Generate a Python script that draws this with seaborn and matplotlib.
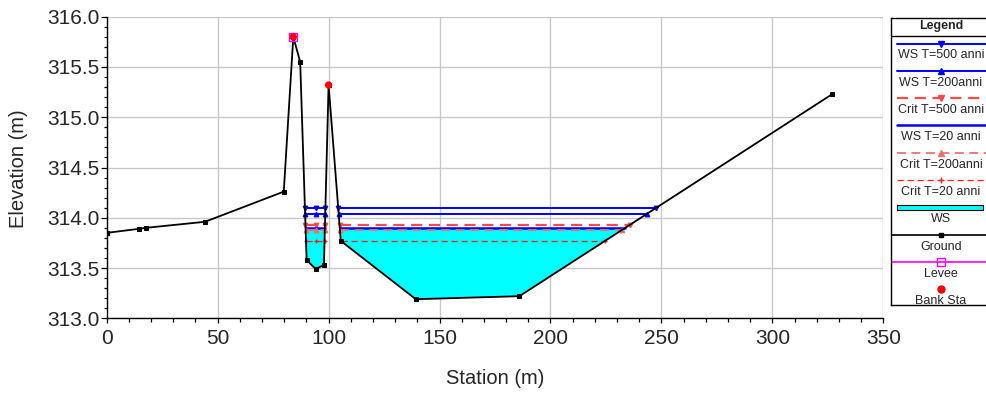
import numpy as np
import pandas as pd
import matplotlib
matplotlib.use("Agg")
import matplotlib.pyplot as plt
import seaborn as sns
from matplotlib.ticker import MultipleLocator
from matplotlib.patches import Rectangle

# ground profile of the cross section
ground_x = [0, 14.6, 17.7, 44.3, 79.8, 84.1, 87.2, 90.1, 94.2, 97.9, 100.0, 105.5, 139.3, 186.0, 327.0]
ground_y = [313.85, 313.89, 313.90, 313.96, 314.26, 315.80, 315.55, 313.58, 313.49, 313.53,
            315.32, 313.77, 313.19, 313.22, 315.23]

# levee and bank stations
levee_x = [84.1]
levee_y = [315.80]
bank_x = [84.1, 100.0]
bank_y = [315.80, 315.32]

# water surface / critical profiles
profiles = ['WS T=500 anni', 'WS T=200anni', 'Crit T=500 anni', 'WS T=20 anni',
            'Crit T=200anni', 'Crit T=20 anni']
levels = [314.10, 314.04, 313.93, 313.90, 313.88, 313.77]
ws_fill_level = 313.90

styles = {
    'WS T=500 anni': dict(color='#0000ff', ls='-', lw=1.4, marker='v'),
    'WS T=200anni': dict(color='#0000ff', ls='-', lw=1.4, marker='^'),
    'Crit T=500 anni': dict(color='#ff4a4a', ls=(0, (5, 3)), lw=1.6, marker='v'),
    'WS T=20 anni': dict(color='#0000ff', ls='-', lw=1.8, marker=None),
    'Crit T=200anni': dict(color='#f07070', ls=(0, (5, 3)), lw=1.3, marker='^'),
    'Crit T=20 anni': dict(color='#ff2020', ls=(0, (5, 3)), lw=0.9, marker='+'),
}

sns.set_style("white")
plt.rcParams['font.family'] = ['Liberation Sans', 'DejaVu Sans']

fig = plt.figure(figsize=(9.86, 3.94), dpi=100)
ax = fig.add_axes([106.7 / 986, 1 - 318.3 / 394, 776.6 / 986, 301.6 / 394])

gx = np.array(ground_x)
gy = np.array(ground_y)

# WS fill (channel only)
ax.fill_between(gx, gy, ws_fill_level, where=(gy < ws_fill_level) & (gx > 85),
                interpolate=True, color='#00ffff', lw=0, zorder=2)

# profile lines: left channel and main channel segments, ends from ground crossings
for name, lev in zip(profiles, levels):
    st = styles[name]
    x_l0 = np.interp(lev, [ground_y[7], ground_y[6]], [ground_x[7], ground_x[6]])
    x_l1 = np.interp(lev, [ground_y[9], ground_y[10]], [ground_x[9], ground_x[10]])
    x_m0 = np.interp(lev, [ground_y[11], ground_y[10]], [ground_x[11], ground_x[10]])
    x_m1 = np.interp(lev, [ground_y[13], ground_y[14]], [ground_x[13], ground_x[14]])
    for seg in ([x_l0, ground_x[8], x_l1], [x_m0, x_m1]):
        df = pd.DataFrame({'x': seg, 'y': [lev] * len(seg)})
        sns.lineplot(data=df, x='x', y='y', sort=False, estimator=None, ax=ax,
                     color=st['color'], linestyle=st['ls'], lw=st['lw'],
                     marker=st['marker'], markersize=3.2, markeredgecolor=st['color'],
                     markeredgewidth=1, zorder=4)

# ground
sns.lineplot(x=ground_x, y=ground_y, sort=False, estimator=None, ax=ax, color='black',
             lw=1.3, marker='s', markersize=3.2, markeredgecolor='black', zorder=5)
ax.plot(levee_x, levee_y, ls='none', marker='s', markersize=5.5, markerfacecolor='none',
        markeredgecolor='#ff00ff', markeredgewidth=1, zorder=6)
sns.scatterplot(x=bank_x, y=bank_y, color='#ff0000', s=28, edgecolor='none', ax=ax, zorder=7)

ax.set_xlim(0, 350)
ax.set_ylim(313.0, 316.0)
ax.xaxis.set_major_locator(MultipleLocator(50))
ax.xaxis.set_minor_locator(MultipleLocator(10))
ax.yaxis.set_major_locator(MultipleLocator(0.5))
ax.yaxis.set_minor_locator(MultipleLocator(0.1))
ax.yaxis.set_major_formatter(matplotlib.ticker.FormatStrFormatter('%.1f'))
ax.grid(True, which='major', color='#c8c8c8', lw=1.0)
ax.set_axisbelow(True)
for s in ['top', 'right']:
    ax.spines[s].set_visible(False)
for s in ['left', 'bottom']:
    ax.spines[s].set_color('black')
    ax.spines[s].set_linewidth(1.0)
ax.tick_params(axis='x', which='major', direction='out', length=3.8, width=0.9,
               labelsize=15, pad=4, bottom=True, color='black')
ax.tick_params(axis='x', which='minor', direction='out', length=3.2, width=0.9,
               bottom=True, color='black')
ax.tick_params(axis='y', which='major', direction='out', length=4.5, width=0.9,
               labelsize=15, pad=0.5, left=True, color='black')
ax.tick_params(axis='y', which='minor', direction='out', length=2.5, width=0.9,
               left=True, color='black')
ax.set_xlabel('Station (m)', fontsize=14.5)
ax.set_ylabel('Elevation (m)', fontsize=14.5)
ax.xaxis.set_label_coords(0.5, -0.198)
ax.xaxis.label.set_va('center')
ax.yaxis.set_label_coords(-0.114, 0.495)
ax.yaxis.label.set_va('center')

# custom legend box (pixel coordinates)
lg = fig.add_axes([891 / 986, 1 - 305 / 394, 100 / 986, 287 / 394])
lg.set_xlim(891, 991)
lg.set_ylim(305, 18)
lg.set_xticks([])
lg.set_yticks([])
for s in lg.spines.values():
    s.set_color('black')
    s.set_linewidth(1.0)
lg.text(941, 25.5, 'Legend', ha='center', va='center', fontsize=9, fontweight='bold')
lg.plot([891, 991], [36, 36], color='black', lw=1.0)

x0, x1, xc = 897, 991, 941
fs = 9
for i, name in enumerate(profiles):
    yl = 43.5 + 27.3 * i
    st = styles[name]
    lg.plot([x0, x1], [yl, yl], color=st['color'], ls=st['ls'], lw=st['lw'])
    if st['marker']:
        lg.plot([xc], [yl], marker=st['marker'], color=st['color'], markersize=4,
                markeredgecolor=st['color'])
    lg.text(xc, yl + 12, name, ha='center', va='center', fontsize=fs)

i = len(profiles)
yl = 43.5 + 27.3 * i
lg.add_patch(Rectangle((x0, yl - 2.5), 86, 5, facecolor='#00ffff', edgecolor='black', lw=0.8))
lg.text(xc, yl + 12, 'WS', ha='center', va='center', fontsize=fs)
yl = 43.5 + 27.3 * (i + 1)
lg.plot([891, x1], [yl, yl], color='black', lw=1.2)
lg.plot([xc], [yl], marker='s', color='black', markersize=3.5)
lg.text(xc, yl + 12, 'Ground', ha='center', va='center', fontsize=fs)
yl = 43.5 + 27.3 * (i + 2)
lg.plot([891, x1], [yl, yl], color='#ff00ff', lw=1.2)
lg.plot([xc], [yl], marker='s', markerfacecolor='none', markeredgecolor='#ff00ff', markersize=6)
lg.text(xc, yl + 12, 'Levee', ha='center', va='center', fontsize=fs)
yl = 43.5 + 27.3 * (i + 3)
lg.plot([xc], [yl], marker='o', color='#ff0000', markersize=5)
lg.text(xc, yl + 12, 'Bank Sta', ha='center', va='center', fontsize=fs)

fig.savefig('out.png', dpi=100)
